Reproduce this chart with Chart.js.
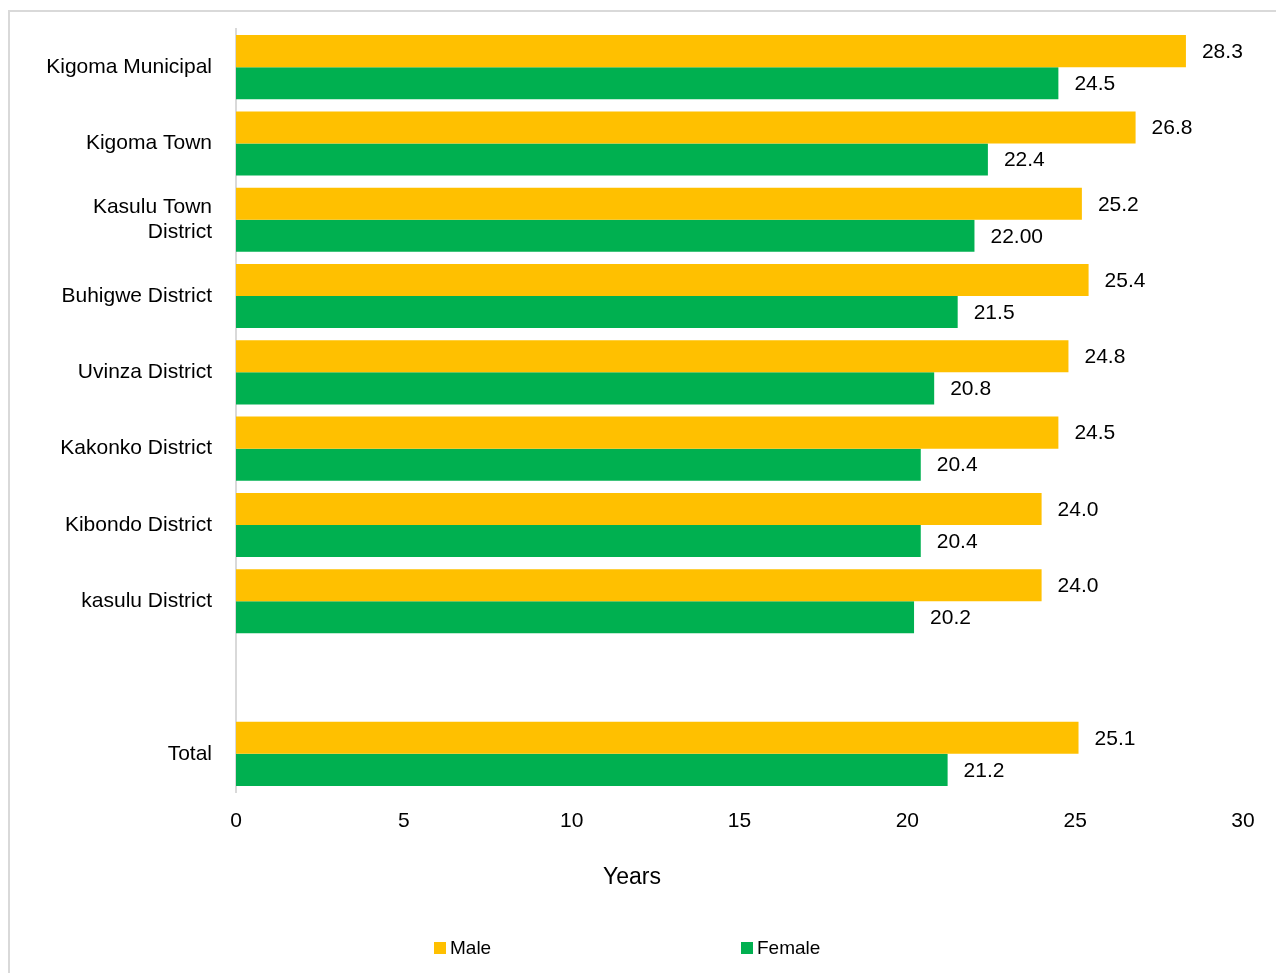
<!DOCTYPE html>
<html>
<head>
<meta charset="utf-8">
<script src="https://cdn.jsdelivr.net/npm/chart.js@4.4.0/dist/chart.umd.min.js"></script>
<style>
  body { margin: 0; background: #fff; overflow: hidden; }
  #moldura { position: absolute; left: 8px; top: 10px; width: 1300px; height: 1000px; border: 2px solid #d9d9d9; }
  #grafico { position: absolute; left: 0; top: 0; }
  #tituloX { position: absolute; left: 532px; width: 200px; top: 863px; text-align: center; font: 23px "Liberation Sans", Arial, sans-serif; color: #000; }
  .legenda { position: absolute; top: 937px; font: 19px "Liberation Sans", Arial, sans-serif; color: #000; display: flex; align-items: center; }
  .legenda span.caixa { display: inline-block; width: 12px; height: 12px; margin-right: 4px; }
</style>
</head>
<body>
<div id="moldura"></div>
<canvas id="grafico" width="1276" height="973"></canvas>
<div id="tituloX">Years</div>
<div id="legendas"></div>
<script>
// categorias (a linha vazia separa o Total)
const categorias = ['Kigoma Municipal', 'Kigoma Town', ['Kasulu Town', 'District'], 'Buhigwe District',
  'Uvinza District', 'Kakonko District', 'Kibondo District', 'kasulu District', '', 'Total'];

// valores (anos)
const valoresMale = [28.3, 26.8, 25.2, 25.4, 24.8, 24.5, 24.0, 24.0, null, 25.1];
const valoresFemale = [24.5, 22.4, 22.0, 21.5, 20.8, 20.4, 20.4, 20.2, null, 21.2];

// casas decimais usadas nos rótulos (o 22.00 aparece assim no original)
const decimaisMale = [1, 1, 1, 1, 1, 1, 1, 1, 0, 1];
const decimaisFemale = [1, 1, 2, 1, 1, 1, 1, 1, 0, 1];

const ticksX = [0, 5, 10, 15, 20, 25, 30];

const fonte = '"Liberation Sans", Arial, sans-serif';
const corMale = '#FFC000';
const corFemale = '#00B050';

// plugin simples para escrever os valores ao lado das barras
const etiquetasValores = {
  id: 'etiquetasValores',
  afterDatasetsDraw(chart) {
    const ctx = chart.ctx;
    const decimais = [decimaisMale, decimaisFemale];
    ctx.save();
    ctx.font = '21px ' + fonte;
    ctx.fillStyle = '#000';
    ctx.textAlign = 'left';
    ctx.textBaseline = 'middle';
    chart.data.datasets.forEach((ds, di) => {
      const meta = chart.getDatasetMeta(di);
      meta.data.forEach((barra, i) => {
        const v = ds.data[i];
        if (v === null || v === undefined) return;
        ctx.fillText(v.toFixed(decimais[di][i]), barra.x + 16, barra.y + 1);
      });
    });
    ctx.restore();
  }
};

const ctx = document.getElementById('grafico').getContext('2d');

const meuGrafico = new Chart(ctx, {
  type: 'bar',
  data: {
    labels: categorias,
    datasets: [
      { label: 'Male', data: valoresMale, backgroundColor: corMale, borderWidth: 0 },
      { label: 'Female', data: valoresFemale, backgroundColor: corFemale, borderWidth: 0 }
    ]
  },
  options: {
    indexAxis: 'y',
    responsive: false,
    animation: false,
    events: [],
    categoryPercentage: 0.84,
    barPercentage: 1.0,
    layout: { padding: { left: 10, top: 29, right: 33, bottom: 81 } },
    scales: {
      x: {
        min: 0,
        max: 30,
        afterBuildTicks: (eixo) => { eixo.ticks = ticksX.map(v => ({ value: v })); },
        afterFit: (eixo) => { eixo.height = 100; eixo.paddingLeft = 0; eixo.paddingRight = 0; },
        grid: { display: false, drawTicks: false },
        border: { display: false },
        ticks: { padding: 17, color: '#000', font: { family: fonte, size: 21 } },
        // o título "Years" fica em HTML porque no original não está centrado no eixo
        title: { display: false }
      },
      y: {
        afterFit: (eixo) => { eixo.width = 226; eixo.paddingTop = 0; eixo.paddingBottom = 0; },
        grid: { display: false, drawTicks: false },
        border: { display: true, color: '#d9d9d9', width: 2 },
        ticks: { padding: 24, color: '#000', font: { family: fonte, size: 21 } }
      }
    },
    plugins: {
      legend: { display: false },
      tooltip: { enabled: false }
    }
  },
  plugins: [etiquetasValores]
});

// legenda em HTML (os itens ficam bem afastados no original)
const posicoesLegenda = [434, 741];
const legendas = document.getElementById('legendas');
meuGrafico.data.datasets.forEach((ds, i) => {
  const item = document.createElement('div');
  item.className = 'legenda';
  item.style.left = posicoesLegenda[i] + 'px';
  item.innerHTML = '<span class="caixa" style="background:' + ds.backgroundColor + '"></span>' + ds.label;
  legendas.appendChild(item);
});
</script>
</body>
</html>
